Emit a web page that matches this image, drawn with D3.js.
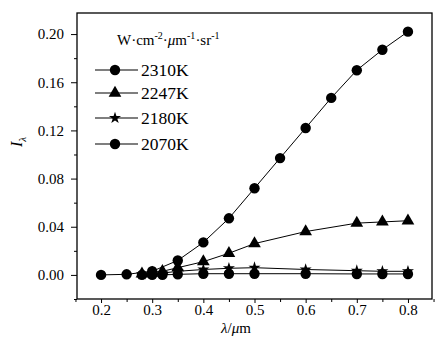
<!DOCTYPE html>
<html>
<head>
<meta charset="utf-8">
<script src="https://cdn.jsdelivr.net/npm/d3@7"></script>
<style>
  body { margin: 0; background: #fff; }
  svg text { font-family: "Liberation Serif", "Times New Roman", Times, "DejaVu Serif", serif; }
</style>
</head>
<body>
<svg id="chart" width="435" height="348"></svg>
<script>
// data
const seriesNames = ["2310K", "2247K", "2180K", "2070K"];
const markerTypes = ["circle", "triangle", "star", "circle"];

const x2310 = [0.20, 0.25, 0.30, 0.35, 0.40, 0.45, 0.50, 0.55, 0.60, 0.65, 0.70, 0.75, 0.80];
const y2310 = [0.000, 0.0005, 0.003, 0.012, 0.027, 0.047, 0.072, 0.097, 0.122, 0.147, 0.170, 0.187, 0.202];

const xLow = [0.28, 0.30, 0.32, 0.35, 0.40, 0.45, 0.50, 0.60, 0.70, 0.75, 0.80];
const y2247 = [0.0008, 0.0015, 0.003, 0.006, 0.011, 0.018, 0.026, 0.036, 0.043, 0.044, 0.045];
const y2180 = [0.0005, 0.001, 0.0015, 0.003, 0.0045, 0.0055, 0.006, 0.0045, 0.0035, 0.003, 0.003];
const y2070 = [0.000, 0.000, 0.000, 0.0005, 0.001, 0.001, 0.001, 0.001, 0.0008, 0.0008, 0.0008];

const xTicks = [0.2, 0.3, 0.4, 0.5, 0.6, 0.7, 0.8];
const yTicks = [0.00, 0.04, 0.08, 0.12, 0.16, 0.20];

const series = [
  { name: seriesNames[0], marker: markerTypes[0], xs: x2310, ys: y2310 },
  { name: seriesNames[1], marker: markerTypes[1], xs: xLow, ys: y2247 },
  { name: seriesNames[2], marker: markerTypes[2], xs: xLow, ys: y2180 },
  { name: seriesNames[3], marker: markerTypes[3], xs: xLow, ys: y2070 }
];

const serif = '"Liberation Serif", "Times New Roman", Times, "DejaVu Serif", serif';
const margin = { left: 77, right: 3, top: 13, bottom: 49 };
const width = 435, height = 348;

const svg = d3.select("#chart");

const x = d3.scaleLinear().domain([0.153, 0.847]).range([margin.left, width - margin.right]);
const y = d3.scaleLinear().domain([-0.02, 0.2175]).range([height - margin.bottom, margin.top]);

function markerPath(type, size) {
  if (type === "circle") return d3.symbol(d3.symbolCircle, size)();
  if (type === "triangle") return d3.symbol(d3.symbolTriangle, size)();
  return d3.symbol(d3.symbolStar, size)();
}
const sizes = { circle: 85, triangle: 70, star: 45 };

// frame
svg.append("rect")
  .attr("x", margin.left).attr("y", margin.top)
  .attr("width", width - margin.left - margin.right)
  .attr("height", height - margin.top - margin.bottom)
  .attr("fill", "none").attr("stroke", "#000").attr("stroke-width", 1.3);

// x axis
const xAxis = svg.append("g")
  .attr("transform", `translate(0,${height - margin.bottom})`)
  .call(d3.axisBottom(x).tickValues(xTicks).tickFormat(d3.format(".1f")).tickSize(4).tickPadding(1))
  .call(g => g.select(".domain").remove());
xAxis.attr("font-family", serif);
xAxis.selectAll("text").attr("font-size", 15).attr("font-family", serif).attr("fill", "#000");
svg.append("g")
  .attr("transform", `translate(0,${height - margin.bottom})`)
  .call(d3.axisBottom(x).tickValues(d3.range(0.15, 0.851, 0.1)).tickFormat("").tickSize(3))
  .call(g => g.select(".domain").remove());

// y axis
const yAxis = svg.append("g")
  .attr("transform", `translate(${margin.left},0)`)
  .call(d3.axisLeft(y).tickValues(yTicks).tickFormat(d3.format(".2f")).tickSize(6).tickPadding(7))
  .call(g => g.select(".domain").remove());
yAxis.attr("font-family", serif);
yAxis.selectAll("text").attr("font-size", 15).attr("font-family", serif).attr("fill", "#000");
svg.append("g")
  .attr("transform", `translate(${margin.left},0)`)
  .call(d3.axisLeft(y).tickValues([-0.02, 0.02, 0.06, 0.10, 0.14, 0.18]).tickFormat("").tickSize(3))
  .call(g => g.select(".domain").remove());

// axis titles
const xt = svg.append("text")
  .attr("x", 236).attr("y", 333).attr("font-family", serif)
  .attr("text-anchor", "middle").attr("font-size", 15);
xt.append("tspan").attr("font-style", "italic").text("λ");
xt.append("tspan").text("/");
xt.append("tspan").attr("font-style", "italic").text("μ");
xt.append("tspan").text("m");

const yt = svg.append("text")
  .attr("transform", "translate(22,142) rotate(-90)").attr("font-family", serif)
  .attr("text-anchor", "middle").attr("font-size", 16).attr("font-style", "italic");
yt.append("tspan").text("I");
yt.append("tspan").attr("font-size", 11).attr("dy", 4).text("λ");

// series
const line = d3.line().x(d => x(d[0])).y(d => y(d[1]));
series.slice().reverse().forEach(s => {
  const pts = s.xs.map((v, i) => [v, s.ys[i]]);
  svg.append("path").datum(pts)
    .attr("d", line).attr("fill", "none").attr("stroke", "#000").attr("stroke-width", 1);
});
series.slice().reverse().forEach(s => {
  const pts = s.xs.map((v, i) => [v, s.ys[i]]);
  svg.append("g").selectAll("path").data(pts).join("path")
    .attr("d", markerPath(s.marker, sizes[s.marker]))
    .attr("transform", d => `translate(${x(d[0])},${y(d[1])})`)
    .attr("fill", "#000");
});

// legend
const unit = svg.append("text").attr("x", 117).attr("y", 45).attr("font-size", 15).attr("font-family", serif);
unit.append("tspan").text("W·cm");
unit.append("tspan").attr("font-size", 10).attr("dy", -6).text("-2");
unit.append("tspan").attr("dy", 6).text("·");
unit.append("tspan").attr("font-style", "italic").text("μ");
unit.append("tspan").text("m");
unit.append("tspan").attr("font-size", 10).attr("dy", -6).text("-1");
unit.append("tspan").attr("dy", 6).text("·sr");
unit.append("tspan").attr("font-size", 10).attr("dy", -6).text("-1");

const legendY = [70, 93, 118, 144];
series.forEach((s, i) => {
  const g = svg.append("g").attr("transform", `translate(0,${legendY[i]})`);
  g.append("line").attr("x1", 95).attr("x2", 138).attr("y1", 0).attr("y2", 0)
    .attr("stroke", "#000").attr("stroke-width", 1.2);
  g.append("path").attr("d", markerPath(s.marker, sizes[s.marker]))
    .attr("transform", "translate(115,0)").attr("fill", "#000");
  g.append("text").attr("x", 141).attr("y", 6).attr("font-size", 17.5).attr("font-family", serif).text(s.name);
});
</script>
</body>
</html>
